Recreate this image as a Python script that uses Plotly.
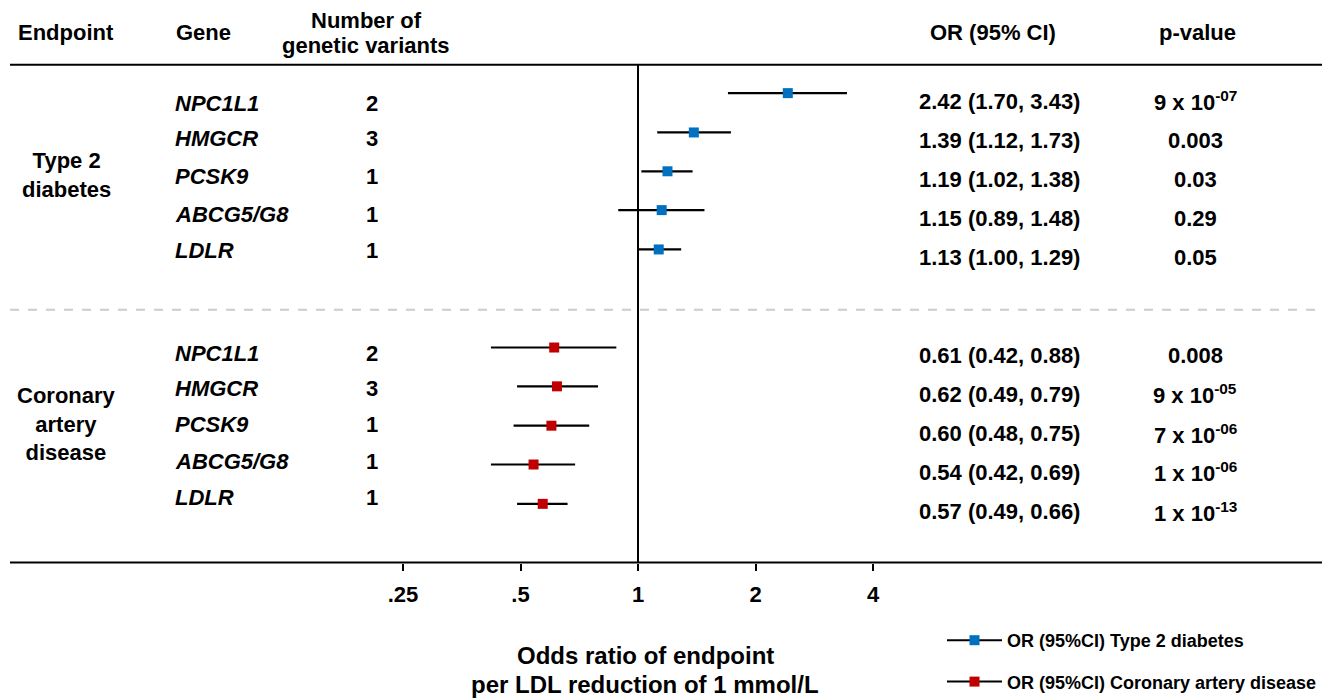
import math
import plotly.graph_objects as go

# ---------------- data ----------------
genes = ["NPC1L1", "HMGCR", "PCSK9", "ABCG5/G8", "LDLR"]
n_variants = [2, 3, 1, 1, 1]

t2d_or = [2.42, 1.39, 1.19, 1.15, 1.13]
t2d_lo = [1.70, 1.12, 1.02, 0.89, 1.00]
t2d_hi = [3.43, 1.73, 1.38, 1.48, 1.29]
t2d_p = ["9 x 10<sup>-07</sup>", "0.003", "0.03", "0.29", "0.05"]

cad_or = [0.61, 0.62, 0.60, 0.54, 0.57]
cad_lo = [0.42, 0.49, 0.48, 0.42, 0.49]
cad_hi = [0.88, 0.79, 0.75, 0.69, 0.66]
cad_p = ["0.008", "9 x 10<sup>-05</sup>", "7 x 10<sup>-06</sup>",
         "1 x 10<sup>-06</sup>", "1 x 10<sup>-13</sup>"]

tick_vals = [0.25, 0.5, 1, 2, 4]
tick_text = [".25", ".5", "1", "2", "4"]

endpoints = ["Type 2<br>diabetes", "Coronary<br>artery<br>disease"]
legend_names = ["OR (95%CI) Type 2 diabetes", "OR (95%CI) Coronary artery disease"]

# ---------------- layout constants ----------------
# Positions below are given in window pixels; the page body adds an 8px margin,
# so the figure itself is drawn 8px smaller and coordinates are shifted.
OFF = 8
W, H = 1341 - OFF, 700 - OFF
BLUE = "#0070C0"
RED = "#C00000"
FONT = "Liberation Sans, Arial, sans-serif"
FS = 22

t2d_rows = [93.5, 133, 172, 211, 250.5]
cad_rows = [349, 388, 427.5, 466.5, 506]
t2d_gene_rows = [103.5, 139.5, 177.5, 215.5, 251.5]
cad_gene_rows = [355, 390, 426, 463, 499.5]
TXT_OFF = 8

# x axis: log scale, 1 at window px 638, one doubling = 117.5 px
X1, DBL = 638.0 - OFF, 117.5
xr = [math.log10(2 ** ((0 - X1) / DBL)), math.log10(2 ** ((W - X1) / DBL))]


def px(x):
    return (x - OFF) / W


def py(y):
    return y - OFF


fig = go.Figure()


def forest(ors, los, his, rows, color):
    fig.add_trace(go.Scatter(
        x=ors, y=[py(r) for r in rows], mode="markers",
        marker=dict(symbol="square", size=10, color=color),
        error_x=dict(type="data", symmetric=False,
                     array=[h - o for h, o in zip(his, ors)],
                     arrayminus=[o - l for o, l in zip(ors, los)],
                     color="black", thickness=2.2, width=0),
        showlegend=False, hoverinfo="skip"))


forest(t2d_or, t2d_lo, t2d_hi, t2d_rows, BLUE)
forest(cad_or, cad_lo, cad_hi, cad_rows, RED)

for name, col in zip(legend_names, [BLUE, RED]):
    fig.add_trace(go.Scatter(
        x=[None], y=[None], mode="lines+markers", name=name,
        legendgroup=name,
        line=dict(color="black", width=2),
        marker=dict(symbol="square", size=10, color=col)))

ann = []


def text(x, y, s, anchor="left", size=FS, italic=False):
    ann.append(dict(x=px(x), y=py(y), xref="paper", yref="y", text=s,
                    showarrow=False, xanchor=anchor, yanchor="middle",
                    align="center",
                    font=dict(family=FONT, size=size, color="black",
                              weight="bold",
                              style="italic" if italic else "normal")))


# headers
text(66, 33, "Endpoint", "center")
text(203, 33, "Gene", "center")
text(366, 21, "Number of", "center")
text(366, 46, "genetic variants", "center")
text(993, 33, "OR (95% CI)", "center")
text(1197, 33, "p-value", "center")

# endpoints
text(66, 176, endpoints[0], "center")
text(66, 426, endpoints[1], "center")

for g, n, o, l, h, p, r, gr in zip(genes, n_variants, t2d_or, t2d_lo, t2d_hi,
                                   t2d_p, t2d_rows, t2d_gene_rows):
    text(173, gr, g, "left", italic=True)
    text(372, gr, str(n), "center")
    text(917, r + TXT_OFF, f"{o:.2f} ({l:.2f}, {h:.2f})", "left")
    text(1195, r + TXT_OFF, p, "center")

for g, n, o, l, h, p, r, gr in zip(genes, n_variants, cad_or, cad_lo, cad_hi,
                                   cad_p, cad_rows, cad_gene_rows):
    text(173, gr, g, "left", italic=True)
    text(372, gr, str(n), "center")
    text(917, r + TXT_OFF, f"{o:.2f} ({l:.2f}, {h:.2f})", "left")
    text(1195, r + TXT_OFF, p, "center")

# x-axis title
text(645, 658, "Odds ratio of endpoint", "center", size=24)
text(645, 687, "per LDL reduction of 1 mmol/L", "center", size=24)

shapes = [
    dict(type="line", xref="paper", yref="y", x0=px(10), x1=px(1322),
         y0=py(65), y1=py(65), line=dict(color="black", width=2)),
    dict(type="line", xref="paper", yref="y", x0=px(10), x1=px(1322),
         y0=py(565), y1=py(565), line=dict(color="black", width=2)),
    dict(type="line", xref="paper", yref="y", x0=px(10), x1=px(1322),
         y0=py(311), y1=py(311), line=dict(color="#cccccc", width=2, dash="dash")),
    dict(type="line", xref="x", yref="y", x0=1, x1=1, y0=py(65), y1=py(565),
         line=dict(color="black", width=2)),
]

fig.update_layout(
    width=W, height=H,
    margin=dict(l=0, r=0, t=0, b=0),
    paper_bgcolor="white", plot_bgcolor="white",
    font=dict(family=FONT, color="black"),
    xaxis=dict(type="log", range=xr, domain=[0, 1], anchor="free",
               position=(H - py(565)) / H,
               tickvals=tick_vals, ticktext=tick_text,
               ticks="outside", ticklen=7, tickwidth=2, tickcolor="black",
               showline=False, showgrid=False, zeroline=False,
               ticklabelstandoff=5,
               tickfont=dict(family=FONT, size=FS, color="black", weight="bold")),
    yaxis=dict(range=[H, 0], domain=[0, 1], visible=False, showgrid=False,
               zeroline=False),
    showlegend=True,
    legend=dict(x=px(942), y=1 - py(625) / H, xanchor="left", yanchor="top",
                font=dict(family=FONT, size=18, color="black", weight="bold"),
                itemwidth=55, tracegroupgap=15, traceorder="grouped",
                bgcolor="rgba(0,0,0,0)"),
    annotations=ann,
    shapes=shapes,
)

fig.write_html("out.html")
